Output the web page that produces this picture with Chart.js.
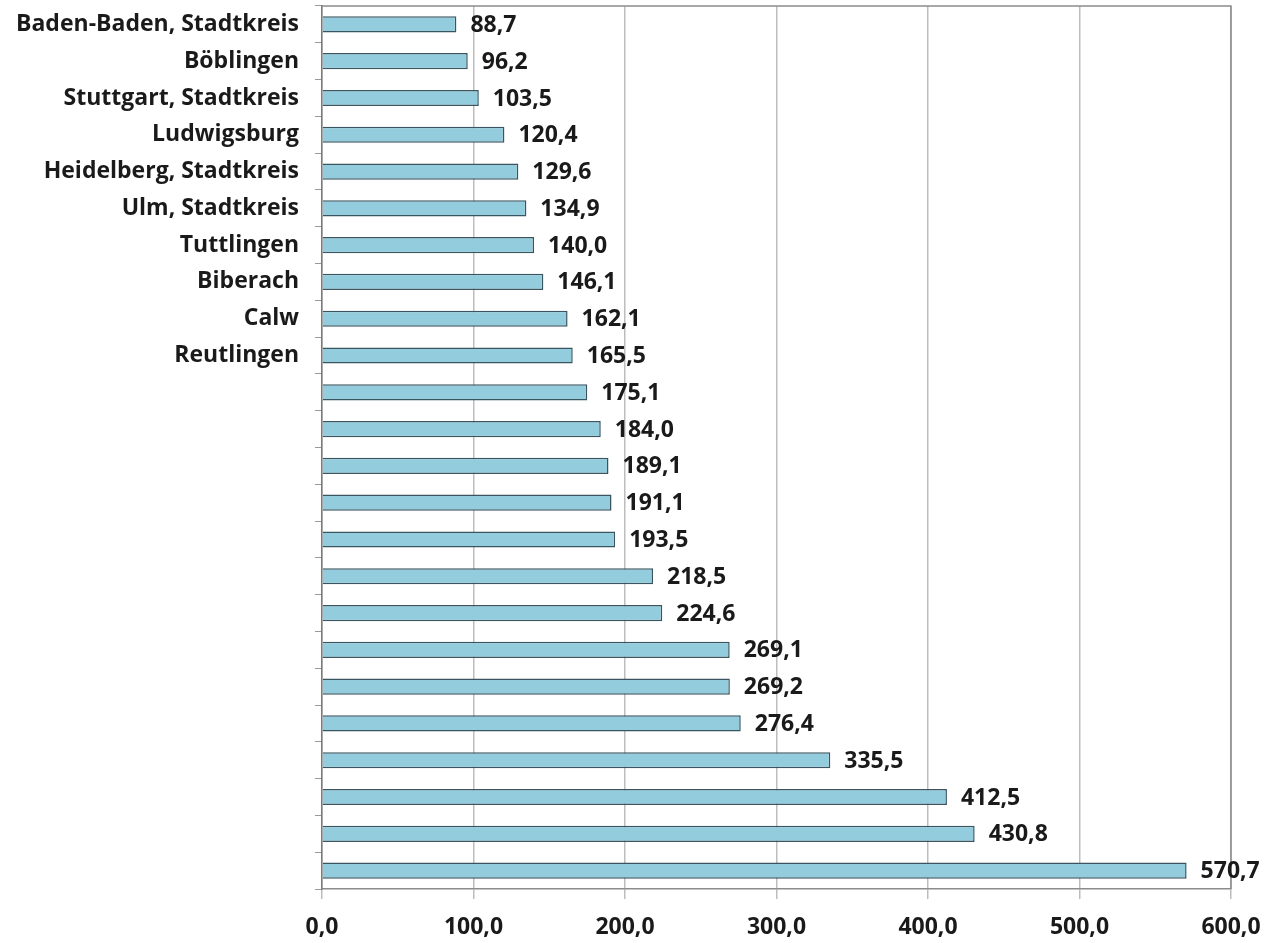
<!DOCTYPE html>
<html>
<head>
<meta charset="utf-8">
<script src="https://cdn.jsdelivr.net/npm/chart.js@4/dist/chart.umd.min.js"></script>
<style>
    html, body { margin: 0; padding: 0; background: #fff; }
    #wrap { width: 1288px; height: 943px; position: relative; }
</style>
</head>
<body>
<div id="wrap"><canvas id="chart"></canvas></div>
<script>
// Kreise (only the top ten carry a name in the original)
const kreise = [
    'Baden-Baden, Stadtkreis', 'Böblingen', 'Stuttgart, Stadtkreis', 'Ludwigsburg',
    'Heidelberg, Stadtkreis', 'Ulm, Stadtkreis', 'Tuttlingen', 'Biberach', 'Calw', 'Reutlingen',
    '', '', '', '', '', '', '', '', '', '', '', '', '', ''
];
const werte = [
    88.7, 96.2, 103.5, 120.4, 129.6, 134.9, 140.0, 146.1, 162.1, 165.5,
    175.1, 184.0, 189.1, 191.1, 193.5, 218.5, 224.6, 269.1, 269.2, 276.4,
    335.5, 412.5, 430.8, 570.7
];
const xTicks = [0, 100, 200, 300, 400, 500, 600];

const fontFamily = '"Open Sans", "DejaVu Sans", sans-serif';
const fmt = v => v.toFixed(1).replace('.', ',');

// frame on top/right + value labels next to each bar
const extras = {
    id: 'extras',
    afterDatasetsDraw(chart) {
        const { ctx, chartArea } = chart;
        ctx.save();
        ctx.strokeStyle = '#8c8c8c';
        ctx.lineWidth = 1.5;
        ctx.beginPath();
        ctx.moveTo(chartArea.left, chartArea.top);
        ctx.lineTo(chartArea.right, chartArea.top);
        ctx.lineTo(chartArea.right, chartArea.bottom);
        ctx.stroke();

        ctx.fillStyle = '#1a1a1a';
        ctx.font = '700 23px ' + fontFamily;
        ctx.textBaseline = 'middle';
        ctx.textAlign = 'left';
        chart.getDatasetMeta(0).data.forEach((bar, i) => {
            ctx.fillText(fmt(werte[i]), bar.x + 14, bar.y + 1);
        });
        ctx.restore();
    }
};

new Chart(document.getElementById('chart'), {
    type: 'bar',
    data: {
        labels: kreise,
        datasets: [{
            data: werte,
            backgroundColor: '#93cddd',
            borderColor: '#3a5560',
            borderWidth: 1.5,
            barPercentage: 0.88,
            categoryPercentage: 0.5
        }]
    },
    options: {
        indexAxis: 'y',
        responsive: true,
        maintainAspectRatio: false,
        animation: false,
        layout: { padding: { top: 6, right: 57, left: 0, bottom: 0 } },
        plugins: {
            legend: { display: false },
            tooltip: { enabled: false }
        },
        scales: {
            x: {
                min: 0,
                max: 600,
                afterBuildTicks: scale => { scale.ticks = xTicks.map(v => ({ value: v })); },
                afterFit: scale => {
                    scale.height = 943 - 889;
                    scale.paddingLeft = 0;
                    scale.paddingRight = 0;
                },
                grid: {
                    color: '#bdbdbd',
                    lineWidth: 1.5,
                    tickLength: 10,
                    drawTicks: true
                },
                border: { display: true, color: '#8c8c8c', width: 1.5 },
                ticks: {
                    callback: v => fmt(v),
                    color: '#1a1a1a',
                    font: { family: fontFamily, size: 23, weight: '700' },
                    padding: 15
                }
            },
            y: {
                afterFit: scale => {
                    scale.width = 322;
                    scale.paddingTop = 0;
                    scale.paddingBottom = 0;
                },
                grid: {
                    offset: true,
                    drawOnChartArea: false,
                    color: '#9a9a9a',
                    tickLength: 7
                },
                border: { display: true, color: '#7a7a7a', width: 1.5 },
                ticks: {
                    autoSkip: false,
                    color: '#1a1a1a',
                    font: { family: fontFamily, size: 23, weight: '700' },
                    padding: 16
                }
            }
        }
    },
    plugins: [extras]
});
</script>
</body>
</html>
